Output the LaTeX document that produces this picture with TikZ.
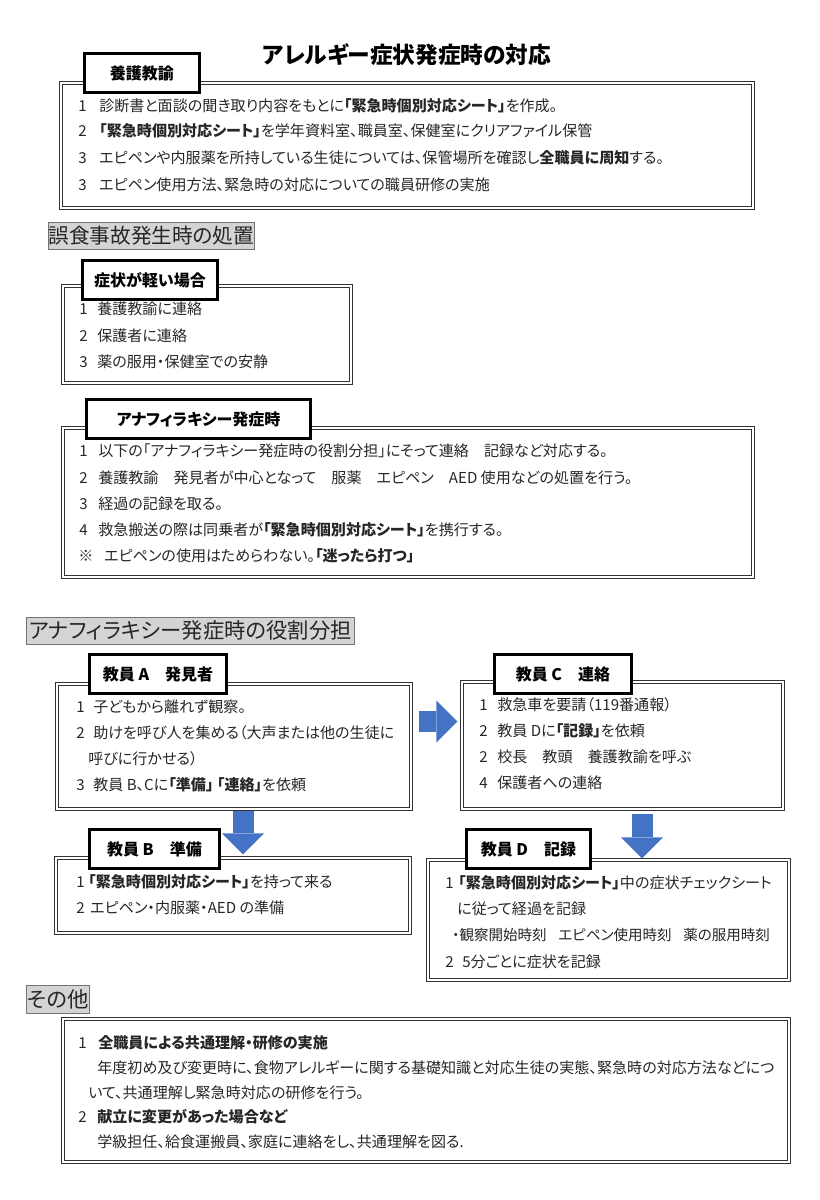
\documentclass[tikz,border=0pt]{standalone}
\usepackage{fontspec}
\setmainfont{Noto Sans CJK JP}[CharacterWidth=AlternateProportional]
\usepackage{tikz}
\usetikzlibrary{arrows.meta,positioning,fit,calc}
\definecolor{arrowblue}{RGB}{68,114,196}
\newcommand{\lnum}[2]{\makebox[#1pt][l]{#2}}

\begin{document}
\begin{tikzpicture}[x=0.75pt,y=-0.75pt,
  mainbox/.style={draw=black!80,double=white,double distance=1.4pt,line width=0.8pt,inner sep=0pt},
  tagbox/.style={draw=black,fill=white,line width=2.2pt,inner sep=0pt,anchor=north west,minimum height=29.25pt,font=\fontsize{12}{14}\selectfont\bfseries},
  headbox/.style={draw=black!55,fill=black!17,line width=0.6pt,inner sep=0pt,anchor=north west,minimum height=20.25pt,text=black!85,font=\fontsize{15.5}{17}\selectfont},
  txt/.style={anchor=west,inner sep=0pt,text=black!85,font=\fontsize{11.3}{13}\selectfont},
  bigarrow/.style={draw=arrowblue,line width=15.75pt,-{Triangle[width=31.5pt,length=15.75pt,line width=0pt]}}]
\useasboundingbox (0,0) rectangle (819,1200);
\node[font=\fontsize{17}{19}\selectfont\bfseries] (title) at (407,55) {アレルギー症状発症時の対応};

% yogo kyoyu
\node[mainbox,fit={(61,83) (753,208)}] (box1) {};
\node[tagbox,minimum width=86.25pt] (tag1) at (83,52) {養護教諭};
\node[txt] (y1) at (78,106) {\lnum{15.75}{1}診断書と面談の聞き取り内容をもとに\textbf{「緊急時個別対応シート」}を作成。};
\node[txt] (y2) at (78,131) {\lnum{15.75}{2}\textbf{「緊急時個別対応シート」}を学年資料室、職員室、保健室にクリアファイル保管};
\node[txt] (y3) at (78,158) {\lnum{15.75}{3}エピペンや内服薬を所持している生徒については、保管場所を確認し\textbf{全職員に周知}する。};
\node[txt] (y4) at (78,185) {\lnum{15.75}{3}エピペン使用方法、緊急時の対応についての職員研修の実施};

% accident
\node[headbox,minimum width=153pt] (head1) at (48,222) {誤食事故発生時の処置};
\node[mainbox,fit={(63,286) (351,383)}] (box2) {};
\node[tagbox,minimum width=101.25pt] (tag2) at (81,259) {症状が軽い場合};
\node[txt] (k1) at (79,309) {\lnum{13.5}{1}養護教諭に連絡};
\node[txt] (k2) at (79,336) {\lnum{13.5}{2}保護者に連絡};
\node[txt] (k3) at (79,362) {\lnum{13.5}{3}薬の服用・保健室での安静};

\node[mainbox,fit={(63,428) (753,577)}] (box3) {};
\node[tagbox,minimum width=168pt] (tag3) at (85,398) {アナフィラキシー発症時};
\node[txt] (n1) at (79,451) {\lnum{14.25}{1}以下の「アナフィラキシー発症時の役割分担」にそって連絡　記録など対応する。};
\node[txt] (n2) at (79,478) {\lnum{14.25}{2}養護教諭　発見者が中心となって　服薬　エピペン　AED 使用などの処置を行う。};
\node[txt] (n3) at (79,504) {\lnum{14.25}{3}経過の記録を取る。};
\node[txt] (n4) at (79,530) {\lnum{14.25}{4}救急搬送の際は同乗者が\textbf{「緊急時個別対応シート」}を携行する。};
\node[txt] (n5) at (78,556) {\lnum{19.5}{※}エピペンの使用はためらわない。\textbf{「迷ったら打つ」}};

% roles
\node[headbox,minimum width=246pt,font=\fontsize{16}{18}\selectfont] (head2) at (26,617) {アナフィラキシー発症時の役割分担};
\node[mainbox,fit={(57,684) (411,809)}] (boxA) {};
\node[tagbox,minimum width=102.75pt] (tagA) at (88,653) {教員 A　発見者};
\node[txt] (a1) at (76,707) {\lnum{12.75}{1}子どもから離れず観察。};
\node[txt] (a2) at (76,733) {\lnum{12.75}{2}助けを呼び人を集める（大声または他の生徒に};
\node[txt] (a3) at (88,759) {呼びに行かせる）};
\node[txt] (a4) at (76,785) {\lnum{12.75}{3}教員 B、Cに\textbf{「準備」\ 「連絡」}を依頼};

\node[mainbox,fit={(462,682) (783,809)}] (boxC) {};
\node[tagbox,minimum width=102.75pt] (tagC) at (493,653) {教員 C　連絡};
\node[txt] (c1) at (479,705) {\lnum{13.5}{1}救急車を要請（119番通報）};
\node[txt] (c2) at (479,731) {\lnum{13.5}{2}教員 Dに\textbf{「記録」}を依頼};
\node[txt] (c3) at (479,757) {\lnum{13.5}{2}校長　教頭　養護教諭を呼ぶ};
\node[txt] (c4) at (479,783) {\lnum{13.5}{4}保護者への連絡};

\node[mainbox,fit={(56,858) (410,933)}] (boxB) {};
\node[tagbox,minimum width=97.5pt] (tagB) at (88,828) {教員 B　準備};
\node[txt] (b1) at (76,882) {\lnum{9}{1}\textbf{「緊急時個別対応シート」}を持って来る};
\node[txt] (b2) at (76,908) {\lnum{10.5}{2}エピペン・内服薬・AED の準備};

\node[mainbox,fit={(428,860) (789,980)}] (boxD) {};
\node[tagbox,minimum width=93pt] (tagD) at (465,828) {教員 D　記録};
\node[txt] (d1) at (445,883) {\lnum{9.75}{1}\textbf{「緊急時個別対応シート」}中の症状チェックシート};
\node[txt] (d2) at (457,909) {に従って経過を記録};
\node[txt,font=\fontsize{10.9}{13}\selectfont] (d3) at (452,935) {・観察開始時刻\hspace{0.8em}エピペン使用時刻\hspace{0.8em}薬の服用時刻};
\node[txt] (d4) at (445,962) {\lnum{12.75}{2}5分ごとに症状を記録};

\draw[bigarrow] ($(boxA.north east)+(7,38)$) -- ($(boxC.north west)+(-4,40)$);
\draw[bigarrow] ($(boxA.south)+(9,1)$) -- ($(boxB.north)+(10,-3)$);
\draw[bigarrow] ($(boxC.south)+(19.5,4)$) -- ($(boxD.north)+(33.5,-1)$);

% others
\node[headbox,minimum width=47.25pt,minimum height=21pt,font=\fontsize{16}{18}\selectfont] (head3) at (26,985) {その他};
\node[mainbox,fit={(63,1019) (789,1162)}] (boxE) {};
\node[txt] (e1) at (78,1043) {\lnum{15}{1}\textbf{全職員による共通理解・研修の実施}};
\node[txt] (e2) at (97,1068) {年度初め及び変更時に、食物アレルギーに関する基礎知識と対応生徒の実態、緊急時の対応方法などにつ};
\node[txt] (e3) at (88,1093) {いて、共通理解し緊急時対応の研修を行う。};
\node[txt] (e4) at (78,1117) {\lnum{14.25}{2}\textbf{献立に変更があった場合など}};
\node[txt] (e5) at (97,1142) {学級担任、給食運搬員、家庭に連絡をし、共通理解を図る.};
\end{tikzpicture}
\end{document}
